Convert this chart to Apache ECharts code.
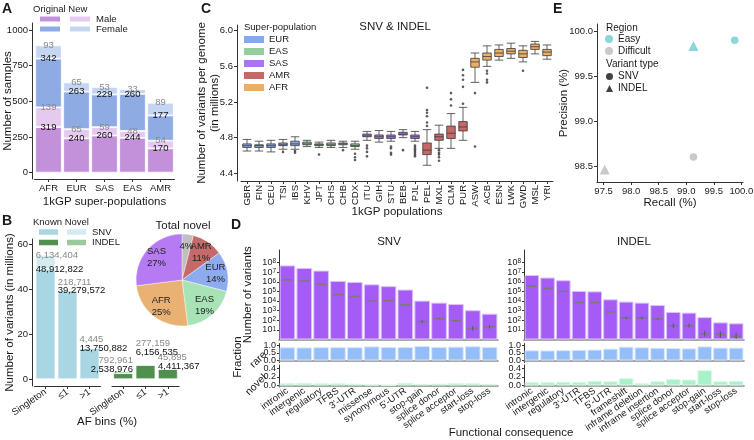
<!DOCTYPE html>
<html><head><meta charset="utf-8">
<script src="https://cdn.jsdelivr.net/npm/echarts@6/dist/echarts.min.js"></script>
<style>html,body{margin:0;padding:0;background:#fff}#c{width:754px;height:440px}</style>
</head><body><div id="c"></div>
<script>
// ---------------- Panel A ----------------
const superPops = ['AFR','EUR','SAS','EAS','AMR'];
const origMale = [319,240,260,244,170];
const newMale = [139,65,59,48,54];
const origFemale = [342,263,229,260,177];
const newFemale = [93,65,53,33,89];
const aTicks = [0,250,500,750,1000];

// ---------------- Panel B ----------------
const afBins = ['Singleton','\u22641','>1'];
const snvKnown = [48912822, 39279572, 13750882];
const snvNovel = [6134404, 218711, 4445];
const indelKnown = [2538976, 6156535, 4411367];
const indelNovel = [792961, 277159, 45895];
const bTicks = [0,20,40,60];
const pieNames = ['', 'AMR', 'EUR', 'EAS', 'AFR', 'SAS'];
const piePct = [4, 11, 14, 19, 25, 27];

// ---------------- Panel C ----------------
const populations = ['GBR','FIN','CEU','TSI','IBS','KHV','JPT','CHS','CHB','CDX','ITU','GIH','STU','BEB','PJL','PEL','MXL','CLM','PUR','ASW','ACB','ESN','LWK','GWD','MSL','YRI'];
const popGroup = ['EUR','EUR','EUR','EUR','EUR','EAS','EAS','EAS','EAS','EAS','SAS','SAS','SAS','SAS','SAS','AMR','AMR','AMR','AMR','AFR','AFR','AFR','AFR','AFR','AFR','AFR'];
const boxStats = [
  [4.65,4.69,4.71,4.73,4.78],[4.65,4.69,4.71,4.72,4.76],[4.64,4.69,4.71,4.73,4.77],[4.67,4.71,4.72,4.74,4.78],[4.67,4.71,4.73,4.76,4.81],
  [4.70,4.72,4.73,4.75,4.77],[4.69,4.71,4.72,4.73,4.75],[4.69,4.71,4.72,4.74,4.77],[4.69,4.72,4.73,4.74,4.76],[4.67,4.70,4.71,4.73,4.76],
  [4.77,4.81,4.82,4.84,4.87],[4.75,4.79,4.81,4.83,4.88],[4.76,4.79,4.81,4.83,4.87],[4.80,4.83,4.84,4.86,4.89],[4.76,4.79,4.81,4.83,4.87],
  [4.49,4.61,4.66,4.74,4.89],[4.68,4.77,4.81,4.84,4.94],[4.68,4.79,4.85,4.93,5.07],[4.77,4.875,4.92,4.98,5.14],
  [5.42,5.59,5.65,5.69,5.75],[5.60,5.67,5.71,5.75,5.83],[5.67,5.71,5.75,5.79,5.84],[5.69,5.74,5.77,5.80,5.86],[5.65,5.70,5.74,5.78,5.83],[5.74,5.79,5.82,5.85,5.88],[5.68,5.72,5.76,5.79,5.84]
];
const outlierValues = [
  [],[],[],[4.64],[4.65,4.63],
  [],[4.61],[],[4.66],[4.62,4.58,4.55],
  [4.71,4.68,4.64,4.59],[],[4.70,4.68,4.63,4.61],[4.66],[4.71,4.69,4.67,4.65,4.63,4.61,4.59],
  [4.93,4.97,5.04,5.08,5.11,5.36],[4.66,4.63,4.61,4.58,4.54],[5.16,5.23,5.30],[5.18,5.37,5.45,5.50,5.56],
  [5.30,4.70],[5.55,5.52,5.45,5.42],[],[],[5.55],[],[]
];
const cTicks = [4.4,4.8,5.2,5.6,6.0];
const superPopOrder = ['EUR','EAS','SAS','AMR','AFR'];

// ---------------- Panel D ----------------
const snvCats = ['intronic','intergenic','regulatory','TFBS',"3'-UTR",'missense','synonymous',"5'-UTR",'stop-gain','splice donor','splice acceptor','start-loss','stop-loss'];
const snvTotal = [5.0e7,2.7e7,1.45e7,1.23e6,9.5e5,5.4e5,3.5e5,1.55e5,1.1e4,6.8e3,4.9e3,1.1e3,480];
const snvMedian = [1.55e6,1.23e6,5.4e5,4.6e4,3.0e4,1.0e4,1.1e4,4.1e3,72,150,93,14,21];
const snvLow = [1.55e6,1.23e6,5.4e5,4.6e4,3.0e4,1.0e4,1.1e4,4.1e3,50,140,85,8,14];
const snvHigh = [1.55e6,1.23e6,5.4e5,4.6e4,3.0e4,1.0e4,1.1e4,4.1e3,110,165,100,25,30];
const snvRare = [0.88,0.87,0.89,0.89,0.89,0.94,0.90,0.90,0.97,0.91,0.92,0.95,0.91];
const snvNovelFrac = [0.06,0.065,0.055,0.055,0.045,0.025,0.015,0.065,0.04,0.045,0.055,0.055,0.04];
const indelCats = ['intronic','intergenic','regulatory',"3'-UTR",'TFBS',"5'-UTR",'frameshift','inframe deletion','inframe insertion','splice donor','splice acceptor','stop-gain','start-loss','stop-loss'];
const indelTotal = [5.0e6,2.75e6,1.45e6,1.1e5,1.0e5,1.5e4,8.7e3,6.8e3,3.8e3,720,620,210,60,48];
const indelMedian = [3.5e5,2.0e5,1.0e5,7.2e3,6.8e3,720,180,180,140,27,27,4,3.4,2.2];
const indelLow = [3.5e5,2.0e5,1.0e5,7.2e3,6.8e3,720,130,130,120,15,18,2,1.5,1.2];
const indelHigh = [3.5e5,2.0e5,1.0e5,7.2e3,6.8e3,720,250,250,160,50,45,8,7,5];
const indelRare = [0.68,0.67,0.69,0.71,0.73,0.79,0.92,0.88,0.85,0.83,0.81,0.94,0.86,0.86];
const indelNovelFrac = [0.08,0.08,0.09,0.08,0.11,0.10,0.17,0.06,0.10,0.15,0.14,0.36,0.10,0.11];
const logTicks = [1e1,1e2,1e3,1e4,1e5,1e6,1e7,1e8];
const rareTicks = [0,0.5,1.0];
const novelTicks = [0,0.2,0.4];

// ---------------- Panel E ----------------
const eRecall = [99.88, 99.13, 99.13, 97.52];
const ePrecision = [99.905, 99.84, 98.60, 98.46];
const eRegion = ['Easy','Easy','Difficult','Difficult'];
const eType = ['SNV','INDEL','SNV','INDEL'];
const eXTicks = [97.5,98.0,98.5,99.0,99.5,100.0];
const eYTicks = [98.5,99.0,99.5,100.0];

// ================= styling =================
const FONT = 'Liberation Sans';
const AX = '#333';
const TXT = '#1a1a1a';
const popColors = {EUR:'#86a9ea', EAS:'#93cf9c', SAS:'#a877ee', AMR:'#c56868', AFR:'#ebae66'};
const regionColors = {Easy:'#6fcbd0', Difficult:'#bcbcbc'};
const typeSymbols = {SNV:'circle', INDEL:'triangle'};

const chart = echarts.init(document.getElementById('c'));

const labelBase = {fontSize:9.5, color:TXT, margin:4, lineHeight:8, showMinLabel:true, showMaxLabel:true, hideOverlap:false};
function valueAxis(o) {
  const base = {
    type:'value', splitLine:{show:false}, nameMoveOverlap:false,
    axisLine:{show:true, onZero:false, lineStyle:{color:AX, width:1}},
    axisTick:{show:true, length:3, lineStyle:{color:AX}},
    axisLabel:Object.assign({}, labelBase, {formatter: v => String(v)}),
    nameTextStyle:{fontSize:11.5, color:TXT},
    nameLocation:'middle'
  };
  const r = Object.assign({}, base, o);
  if (o.ticks) {
    r.axisTick = Object.assign({}, base.axisTick, {customValues:o.ticks});
    r.axisLabel = Object.assign({}, base.axisLabel, {customValues:o.labelTicks || o.ticks}, o.labelExtra || {});
    delete r.ticks; delete r.labelExtra; delete r.labelTicks;
  }
  return r;
}
function catAxis(o) {
  const base = {
    type:'category', nameMoveOverlap:false, axisLine:{show:true, onZero:false, lineStyle:{color:AX, width:1}},
    axisTick:{show:true, length:3, alignWithLabel:true, lineStyle:{color:AX}},
    axisLabel:Object.assign({}, labelBase, {interval:0, lineHeight:11}),
    nameTextStyle:{fontSize:11.5, color:TXT}, nameLocation:'middle'
  };
  const r = Object.assign({}, base, o);
  if (o.labelExtra) { r.axisLabel = Object.assign({}, base.axisLabel, o.labelExtra); delete r.labelExtra; }
  return r;
}

const grids = [
  {left:34.5, top:23, width:140, height:156},
  {left:34.5, top:239, width:66, height:147},
  {left:112, top:239, width:67, height:147},
  {left:241, top:25, width:312, height:156},
  {left:597, top:24, width:146, height:158},
  {left:279, top:250, width:219, height:89.5},
  {left:279, top:343.5, width:219, height:19},
  {left:279, top:365, width:219, height:22},
  {left:524, top:250, width:220, height:89.5},
  {left:524, top:343.5, width:220, height:19},
  {left:524, top:365, width:220, height:22}
].map(g => Object.assign(g, {outerBoundsMode:'none', containLabel:false}));

const fix1 = v => Number(v).toFixed(1);
const logFmt = v => {
  const l = Math.log10(v), e = Math.round(l);
  if (Math.abs(l - e) > 0.01 || e < 1 || e > 8) return '';
  return '{a|10}{s|' + e + '}';
};
const logRich = {a:{fontSize:9, color:TXT, lineHeight:9}, s:{fontSize:6.5, color:TXT, verticalAlign:'top', lineHeight:4}};

const dXAxisPlain = (gi, cats) => catAxis({gridIndex:gi, data:cats, axisLine:{show:true, lineStyle:{color:'#8a8a8a', width:1.6}}, axisTick:{show:false}, axisLabel:{show:false}});
const dXAxisLab = (gi, cats) => catAxis({gridIndex:gi, data:cats, axisLine:{show:true, lineStyle:{color:'#8a8a8a', width:1.6}}, axisTick:{show:false}, labelExtra:{rotate:35, fontSize:9.5, margin:3}});

const xAxes = [
  catAxis({gridIndex:0, data:superPops, name:'1kGP super-populations', nameGap:17}),
  catAxis({gridIndex:1, data:afBins, labelExtra:{rotate:35, margin:5}}),
  catAxis({gridIndex:2, data:afBins, labelExtra:{rotate:35, margin:5}}),
  catAxis({gridIndex:3, data:populations, name:'1kGP populations', nameGap:25, labelExtra:{rotate:90, fontSize:9.5, margin:4}}),
  valueAxis({gridIndex:4, min:97.38, max:100.03, ticks:eXTicks, labelExtra:{formatter:fix1, lineHeight:11}, name:'Recall (%)', nameGap:15}),
  dXAxisPlain(5, snvCats), dXAxisPlain(6, snvCats), dXAxisLab(7, snvCats),
  dXAxisPlain(8, indelCats), dXAxisPlain(9, indelCats), dXAxisLab(10, indelCats)
];

const dLogAxis = (gi, name) => {
  const a = valueAxis({gridIndex:gi, type:'log', logBase:10, min:1, max:2e9, ticks:logTicks, labelExtra:{formatter:logFmt, rich:logRich, margin:3, lineHeight:8}});
  a.axisTick.length = 2;
  if (name) { a.name = name; a.nameGap = 25; }
  return a;
};
// fraction axes: end labels on the main axis, the middle label on a twin axis so that none is dropped
const dFracAxis = (gi, min, max, ticks, name) => {
  const a = valueAxis({gridIndex:gi, position:'left', min, max, ticks, labelTicks:[ticks[0], ticks[2]], labelExtra:{formatter:fix1, margin:3, fontSize:9, lineHeight:5}});
  a.axisTick.length = 2;
  if (name) { a.name = name; a.nameRotate = 45; a.nameGap = 14; a.nameTextStyle = {fontSize:10.5, color:TXT}; }
  return a;
};
const dFracTwin = (gi, min, max, ticks) => {
  const a = valueAxis({gridIndex:gi, position:'left', offset:0, min, max, ticks:[ticks[1]], labelExtra:{formatter:fix1, margin:3, fontSize:9, lineHeight:5}});
  a.axisLine = {show:false};
  a.axisTick = {show:false};
  return a;
};

const yAxes = [
  valueAxis({gridIndex:0, min:-45, max:1050, ticks:aTicks, offset:2.5, name:'Number of samples', nameGap:18}),
  valueAxis({gridIndex:1, min:-3.1, max:62.2, ticks:bTicks, offset:2.5, name:'Number of variants (in millions)', nameGap:16}),
  valueAxis({gridIndex:2, min:-3.1, max:62.2, show:false}),
  valueAxis({gridIndex:3, min:4.3136, max:6.064, ticks:cTicks, labelExtra:{formatter:fix1}, offset:4, name:'Number of variants per genome\n(in millions)', nameGap:16, nameTextStyle:{fontSize:11.5, color:TXT, lineHeight:13}}),
  valueAxis({gridIndex:4, min:98.321, max:100.086, ticks:eYTicks, labelExtra:{formatter:fix1}, name:'Precision (%)', nameGap:27}),
  dLogAxis(5, 'Number of variants'),
  dFracAxis(6, -0.133, 1.133, rareTicks, 'rare'),
  dFracAxis(7, -0.035, 0.482, novelTicks, 'novel'),
  dLogAxis(8, null),
  dFracAxis(9, -0.133, 1.133, rareTicks, null),
  dFracAxis(10, -0.035, 0.482, novelTicks, null),
  dFracTwin(6, -0.133, 1.133, rareTicks),
  dFracTwin(7, -0.035, 0.482, novelTicks),
  dFracTwin(9, -0.133, 1.133, rareTicks),
  dFracTwin(10, -0.035, 0.482, novelTicks)
];

const series = [];

// ---- Panel A bars
const aLabel = color => ({show:true, position:['50%', 0], align:'center', verticalAlign:'middle', fontSize:9.5, color:color});
[['Original Male', origMale, '#c390da', '#111'], ['New Male', newMale, '#e6c9ef', '#8a8a8a'],
 ['Original Female', origFemale, '#8eabe3', '#111'], ['New Female', newFemale, '#c6d6f2', '#8a8a8a']].forEach(([n, d, c, lc]) => {
  series.push({type:'bar', name:n, xAxisIndex:0, yAxisIndex:0, stack:'A', data:d, barWidth:26.5,
    itemStyle:{color:c, borderColor:'#fff', borderWidth:0.8}, label:aLabel(lc)});
});

// ---- Panel B bars
const pxPerM = 147 / (62.2 + 3.1);
const indelKnownNudge = [-4, -13, -3];
function bSeries(name, gi, vals, color, labelColor, isNovel, nudges, stack, firstRight) {
  return {
    type:'bar', name, xAxisIndex:gi, yAxisIndex:gi, stack, barWidth:19.5,
    itemStyle:{color, borderColor:'#fff', borderWidth:0.6},
    data: vals.map((v, i) => {
      const nud = nudges ? nudges[i] : 0;
      const off = isNovel ? Math.min(0, v / 1e6 * pxPerM + nud - 8.5) : nud;
      const right = firstRight && i === 0;
      return {value: v / 1e6, label:{show:true, position:[right ? '100%' : 0, 0], align: right ? 'right' : 'left',
        verticalAlign:'middle', offset:[0, off], fontSize:9.5, color:labelColor,
        formatter: () => vals[i].toLocaleString('en-US')}};
    })
  };
}
series.push(bSeries('Known SNV', 1, snvKnown, '#a8d6e2', '#111', false, null, 'snv', false));
series.push(bSeries('Novel SNV', 1, snvNovel, '#d3ebf1', '#8a8a8a', true, null, 'snv', false));
series.push(bSeries('Known INDEL', 2, indelKnown, '#4f904f', '#111', false, indelKnownNudge, 'indel', true));
series.push(bSeries('Novel INDEL', 2, indelNovel, '#9bc99c', '#8a8a8a', true, indelKnownNudge, 'indel', true));

// ---- Pie
const pieColors = ['#bfbfbf', '#c56a6a', '#8eabef', '#a7e3b5', '#eab174', '#b67af2'];
series.push({type:'pie', center:[182, 280], radius:46, startAngle:90, clockwise:true, silent:true,
  label:{show:false}, labelLine:{show:false},
  itemStyle:{borderColor:'#fff', borderWidth:0.4},
  data: piePct.map((v, i) => ({name: pieNames[i] || 'other', value:v, itemStyle:{color:pieColors[i]}}))});
series.push({type:'pie', center:[182, 280], radius:62, startAngle:90, clockwise:true, silent:true,
  itemStyle:{color:'rgba(0,0,0,0)'}, labelLine:{show:false},
  label:{show:true, position:'inside', fontSize:9.5, color:'#222', lineHeight:12,
    formatter: p => (pieNames[p.dataIndex] ? pieNames[p.dataIndex] + '\n' : '') + piePct[p.dataIndex] + '%'},
  labelLayout:{hideOverlap:false},
  data: piePct.map((v, i) => ({name:'L' + i, value:v}))});

// ---- Panel C boxplots
series.push({type:'boxplot', xAxisIndex:3, yAxisIndex:3, boxWidth:[8.5, 8.5],
  itemStyle:{borderColor:'#3a3a3a', borderWidth:0.8},
  data: boxStats.map((b, i) => ({value:b, itemStyle:{color:popColors[popGroup[i]], borderColor:'#3a3a3a', borderWidth:0.8}}))});
const outPts = [];
outlierValues.forEach((arr, i) => arr.forEach(v => outPts.push([i, v])));
series.push({type:'scatter', xAxisIndex:3, yAxisIndex:3, symbolSize:2.6, itemStyle:{color:'#333'}, data:outPts, silent:true});
superPopOrder.forEach(g => series.push({type:'bar', name:g, xAxisIndex:3, yAxisIndex:3, data:[], itemStyle:{color:popColors[g]}}));

// ---- Panel E
series.push({type:'scatter', xAxisIndex:4, yAxisIndex:4, silent:true,
  data: eRecall.map((x, i) => ({value:[x, ePrecision[i]], symbol:typeSymbols[eType[i]],
    symbolSize: eType[i] === 'INDEL' ? 10 : 7.5, itemStyle:{color:regionColors[eRegion[i]]}}))});
series.push({type:'scatter', name:'Easy', xAxisIndex:4, yAxisIndex:4, data:[], itemStyle:{color:regionColors.Easy}});
series.push({type:'scatter', name:'Difficult', xAxisIndex:4, yAxisIndex:4, data:[], itemStyle:{color:regionColors.Difficult}});
series.push({type:'scatter', name:'SNV', xAxisIndex:4, yAxisIndex:4, data:[], itemStyle:{color:'#111'}});
series.push({type:'scatter', name:'INDEL', xAxisIndex:4, yAxisIndex:4, symbol:'triangle', data:[], itemStyle:{color:'#111'}});

// ---- Panel D
function medRender(params, api) {
  const x = api.value(0);
  const c = api.coord([x, api.value(1)]);
  const lo = api.coord([x, api.value(2)]);
  const hi = api.coord([x, api.value(3)]);
  const w = api.size([1, 1])[0] * 0.62;
  const ch = [{type:'line', shape:{x1:c[0] - w / 2, y1:c[1], x2:c[0] + w / 2, y2:c[1]}, style:{stroke:'#7a7a7a', lineWidth:1.6}}];
  if (Math.abs(lo[1] - hi[1]) > 0.5) ch.push({type:'line', shape:{x1:c[0], y1:lo[1], x2:c[0], y2:hi[1]}, style:{stroke:'#555', lineWidth:0.9}});
  return {type:'group', children:ch};
}
function dSeries(gi, total, med, lo, hi, rare, nov) {
  series.push({type:'bar', xAxisIndex:gi, yAxisIndex:gi, data:total, barCategoryGap:'7%',
    itemStyle:{color:'#a55cf6', borderColor:'#dcc2fb', borderWidth:1}});
  series.push({type:'custom', xAxisIndex:gi, yAxisIndex:gi, renderItem:medRender, z:5, silent:true,
    encode:{x:0, y:[1, 2, 3]}, data: med.map((m, i) => [i, m, lo[i], hi[i]])});
  series.push({type:'bar', xAxisIndex:gi + 1, yAxisIndex:gi + 1, data:rare, barCategoryGap:'7%',
    itemStyle:{color:'#94bef8', borderColor:'#d8e7fc', borderWidth:1}});
  series.push({type:'bar', xAxisIndex:gi + 2, yAxisIndex:gi + 2, data:nov, barCategoryGap:'7%',
    itemStyle:{color:'#a8f2c9', borderColor:'#d9f9e7', borderWidth:1}});
}
dSeries(5, snvTotal, snvMedian, snvLow, snvHigh, snvRare, snvNovelFrac);
dSeries(8, indelTotal, indelMedian, indelLow, indelHigh, indelRare, indelNovelFrac);

// ---- Legends
const legBase = {selectedMode:false, padding:0, icon:'rect', textStyle:{fontSize:9.5, color:TXT, lineHeight:8}};
const hideOrig = n => (n.indexOf('New ') === 0 ? n.slice(4) : '');
const hideKnown = n => (n.indexOf('Novel ') === 0 ? n.slice(6) : '');
const legends = [
  Object.assign({}, legBase, {data:['Original Male','New Male'], left:38, top:14, itemWidth:22, itemHeight:7, itemGap:2, formatter:hideOrig}),
  Object.assign({}, legBase, {data:['Original Female','New Female'], left:38, top:24, itemWidth:22, itemHeight:7, itemGap:2, formatter:hideOrig}),
  Object.assign({}, legBase, {data:['Known SNV','Novel SNV'], left:37, top:227, itemWidth:21, itemHeight:7.5, itemGap:1, formatter:hideKnown}),
  Object.assign({}, legBase, {data:['Known INDEL','Novel INDEL'], left:37, top:237.5, itemWidth:21, itemHeight:7.5, itemGap:1, formatter:hideKnown}),
  Object.assign({}, legBase, {data:superPopOrder, orient:'vertical', left:244, top:34.5, itemWidth:20, itemHeight:7, itemGap:2, textStyle:{fontSize:9.5, color:TXT, lineHeight:7}}),
  Object.assign({}, legBase, {data:[{name:'Easy', icon:'circle'}, {name:'Difficult', icon:'circle'}], orient:'vertical', left:605, top:34, itemWidth:8, itemHeight:8, itemGap:2, textStyle:{fontSize:10, color:TXT, lineHeight:8}}),
  Object.assign({}, legBase, {data:[{name:'SNV', icon:'circle'}, {name:'INDEL', icon:'triangle'}], orient:'vertical', left:606, top:71.5, itemWidth:7, itemHeight:7, itemGap:2, textStyle:{fontSize:10, color:TXT, lineHeight:7}})
];

// ---- Free text
const G = [];
function txt(x, y, text, o) {
  o = o || {};
  G.push({type:'text', x, y, rotation:o.rot || 0, silent:true, z:100,
    style:{text, fill:o.color || TXT, font:(o.bold ? 'bold ' : '') + (o.size || 11.5) + 'px "' + FONT + '"',
      align:o.align || 'center', verticalAlign:'middle'}});
}
txt(2, 9, 'A', {bold:true, size:14, align:'left'});
txt(2, 221, 'B', {bold:true, size:14, align:'left'});
txt(201, 9, 'C', {bold:true, size:14, align:'left'});
txt(231, 225, 'D', {bold:true, size:14, align:'left'});
txt(553, 9, 'E', {bold:true, size:14, align:'left'});
txt(33, 9, 'Original New', {size:9.5, align:'left'});
txt(33, 222, 'Known Novel', {size:9.5, align:'left'});
txt(183, 226, 'Total novel', {size:11.5});
txt(244, 27, 'Super-population', {size:9.5, align:'left'});
txt(395, 27, 'SNV & INDEL', {size:11.5});
txt(606, 28, 'Region', {size:10, align:'left'});
txt(606, 64, 'Variant type', {size:10, align:'left'});
txt(389, 242, 'SNV', {size:11.5});
txt(634, 242, 'INDEL', {size:11.5});
txt(511, 433, 'Functional consequence', {size:11.5});
txt(107, 422, 'AF bins (%)', {size:11.5});
txt(238, 357, 'Fraction', {size:11.5, rot:Math.PI / 2});

chart.setOption({
  animation:false,
  backgroundColor:'#fff',
  textStyle:{fontFamily:FONT},
  grid:grids, xAxis:xAxes, yAxis:yAxes, legend:legends, series, graphic:G
});
</script></body></html>
